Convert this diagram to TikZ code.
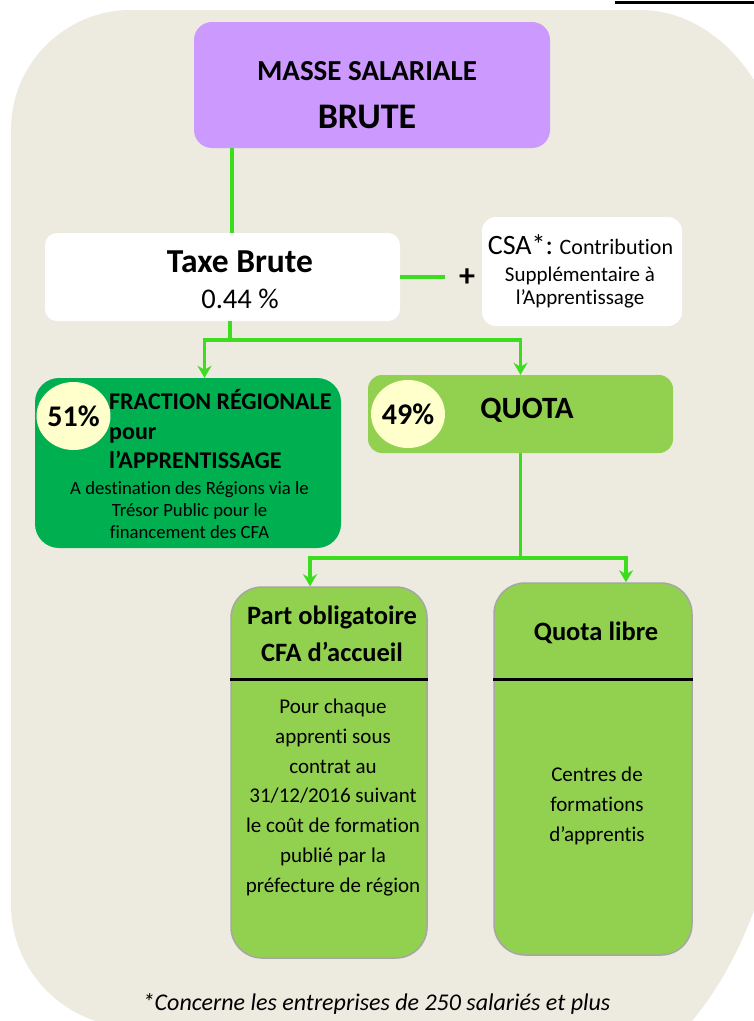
\documentclass[tikz,border=0pt]{standalone}
\usepackage{fontspec}
\setmainfont{Carlito}[Ligatures=NoCommon]
\usepackage{tikz}
\usetikzlibrary{arrows.meta,shapes.geometric}
\definecolor{bgbeige}{RGB}{237,234,224}
\definecolor{massepurple}{RGB}{204,153,255}
\definecolor{darkgreen}{RGB}{0,176,80}
\definecolor{lightgreen}{RGB}{146,208,80}
\definecolor{pctyellow}{RGB}{255,255,204}
\definecolor{linkgreen}{RGB}{60,220,30}
\definecolor{boxgray}{RGB}{166,166,166}

\begin{document}
\begin{tikzpicture}[x=1pt,y=-1pt,
  box/.style={rounded corners=#1,inner sep=0pt},
  link/.style={linkgreen,line width=3.5pt},
  arrow/.style={link,-{Stealth[length=12pt,width=14pt]}},
  pct/.style={ellipse,fill=pctyellow,inner sep=0pt,font=\bfseries\fontsize{30}{34}\selectfont},
  txt/.style={inner sep=0pt,align=center}]
\useasboundingbox (0,0) rectangle (754,1021);
\fill[white] (0,0) rectangle (754,1021);
\begin{scope}
\clip (0,0) rectangle (754,1021);
\fill[bgbeige] (11,130) .. controls (11,63.7) and (64.7,10) .. (131,10)
  -- (640,10) .. controls (723,10) and (790,99.5) .. (790,210)
  -- (790,698) .. controls (790,915) and (689,1091) .. (560,1091)
  -- (134,1027) .. controls (66,1027) and (11,972) .. (11,904) -- cycle;
\draw[line width=3pt] (615,2) -- (754,2);
\end{scope}

% boxes
\node[box=18pt,fill=massepurple,minimum width=356pt,minimum height=126pt] (masse) at (372,85) {};
\node[box=12pt,fill=white,minimum width=355pt,minimum height=88pt] (taxe) at (222.5,277) {};
\node[box=14pt,fill=white,minimum width=200pt,minimum height=109pt] (csa) at (582,271.5) {};
\node[box=24pt,fill=darkgreen,minimum width=306pt,minimum height=170pt] (frac) at (188,463) {};
\node[box=14pt,fill=lightgreen,minimum width=305pt,minimum height=78pt] (quota) at (520.5,414) {};
\node[box=31pt,fill=lightgreen,draw=boxgray,line width=1.5pt,minimum width=196pt,minimum height=371pt] (part) at (329,772.5) {};
\node[box=31pt,fill=lightgreen,draw=boxgray,line width=1.5pt,minimum width=198pt,minimum height=372pt] (libre) at (593,769) {};
\draw[line width=2.5pt] ([yshift=-93pt]part.north west) -- ([yshift=-93pt]part.north east);
\draw[line width=2.5pt] ([yshift=-97pt]libre.north west) -- ([yshift=-97pt]libre.north east);

% texts
\node[txt,font=\bfseries\fontsize{29}{33}\selectfont] (masse1) at (367,71.5) {MASSE SALARIALE};
\node[txt,font=\bfseries\fontsize{36}{40}\selectfont] (masse2) at (367,116.5) {BRUTE};
\node[txt,font=\bfseries\fontsize{33.5}{38}\selectfont] (taxe1) at (240,262) {Taxe Brute};
\node[txt,font=\fontsize{28.5}{32}\selectfont] (taxe2) at (240,299) {0.44 \%};
\node[txt,font=\bfseries\fontsize{32}{36}\selectfont] (plus) at (467,278) {+};
\node[txt,font=\fontsize{22}{26}\selectfont] (csa1) at (580.5,245) {{\fontsize{28}{32}\selectfont CSA*:} Contribution};
\node[txt,font=\fontsize{21}{23}\selectfont] (csa2) at (580,288) {Supplémentaire à\\l’Apprentissage};
\node[pct,minimum width=63pt,minimum height=68pt] (p51) at (73.5,416) {51\%};
\node[txt,anchor=west,align=left,font=\bfseries\fontsize{24}{29.5}\selectfont] (frac1) at (109,429) {FRACTION RÉGIONALE\\pour\\l’APPRENTISSAGE};
\node[txt,font=\fontsize{18.7}{22}\selectfont] (frac2) at (189.5,510) {A destination des Régions via le\\Trésor Public pour le\\financement des CFA};
\node[pct,minimum width=66pt,minimum height=68pt] (p49) at (408,414) {49\%};
\node[txt,font=\bfseries\fontsize{31}{35}\selectfont] (quota1) at (527,410) {QUOTA};
\node[txt,font=\bfseries\fontsize{26.5}{37}\selectfont] (part1) at (332,633.5) {Part obligatoire\\CFA d’accueil};
\node[txt,font=\fontsize{21}{29.8}\selectfont] (part2) at (333,797.5) {Pour chaque\\apprenti sous\\contrat au\\31/12/2016 suivant\\le coût de formation\\publié par la\\préfecture de région};
\node[txt,font=\bfseries\fontsize{26.5}{30}\selectfont] (libre1) at (596,633) {Quota libre};
\node[txt,font=\fontsize{21}{30}\selectfont] (libre2) at (597,805.5) {Centres de\\formations\\d’apprentis};
\node[txt,font=\itshape\fontsize{24}{28}\selectfont] (note) at (376.5,1004) {*Concerne les entreprises de 250 salariés et plus};

% connectors
\coordinate (split1) at (230,340);
\coordinate (split2) at (520.5,558);
\draw[link] ([xshift=-140pt]masse.south) -- ([xshift=-140pt]masse.south |- taxe.north);
\draw[link] (taxe.east) -- ++(45,0);
\draw[link] ([xshift=7.5pt]taxe.south) -- (split1);
\draw[arrow] (split1) -| ([xshift=16.5pt]frac.north);
\draw[arrow] (split1) -| (quota.north);
\draw[link] (quota.south) -- (split2);
\draw[arrow] (split2) -| ([xshift=-19pt]part.north);
\draw[arrow] (split2) -| ([xshift=33pt]libre.north);
\end{tikzpicture}
\end{document}
